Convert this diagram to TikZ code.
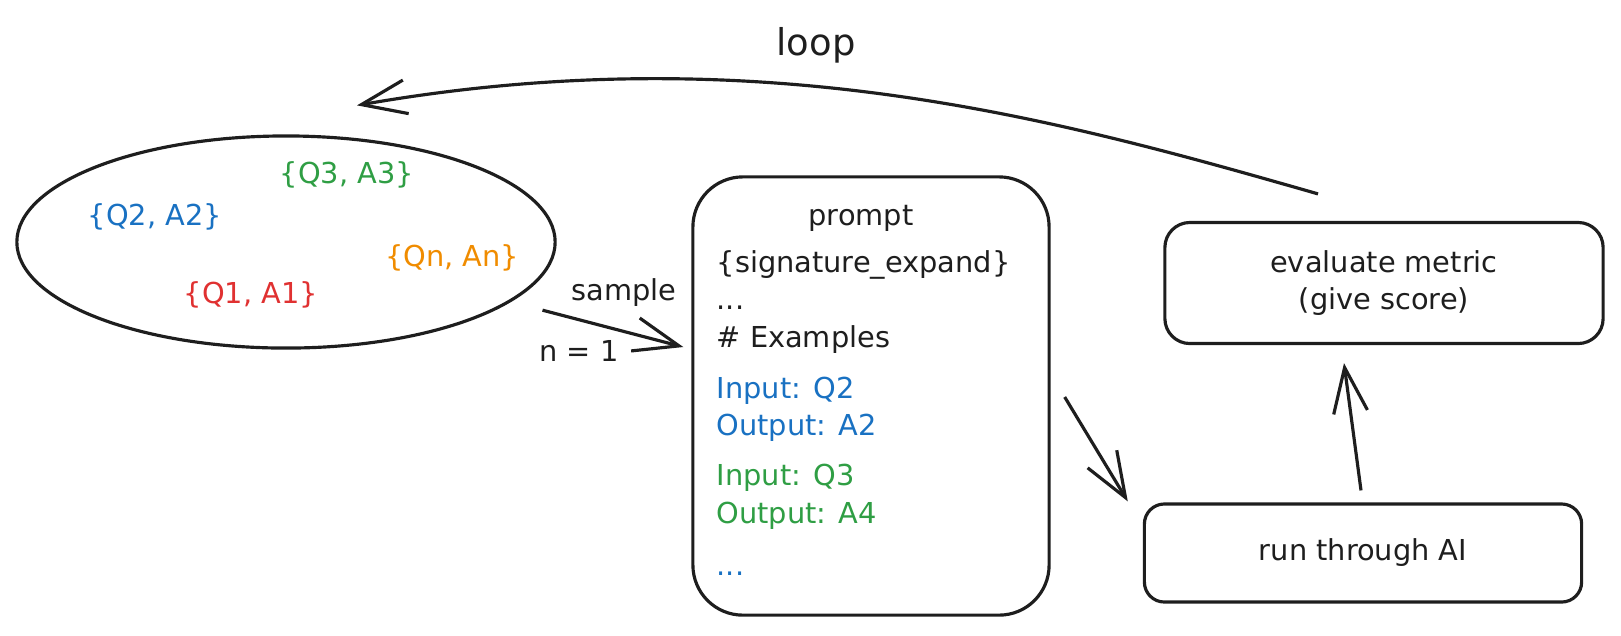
\documentclass[tikz,border=0pt]{standalone}
\usepackage{fontspec}
\setmainfont{DejaVu Sans}
\usetikzlibrary{arrows.meta,positioning,shapes.geometric}
\definecolor{Ink}{HTML}{1E1E1E}
\definecolor{PairBlue}{HTML}{1971C2}
\definecolor{PairGreen}{HTML}{2F9E44}
\definecolor{PairOrange}{HTML}{F08C00}
\definecolor{PairRed}{HTML}{E03131}

\begin{document}
\begin{tikzpicture}[
        x=0.01cm, y=-0.01cm, font=\fontsize{8.2}{10.5}\selectfont, text=Ink,
        box/.style={draw=Ink, line width=0.9pt, align=center},
        ln/.style={anchor=base west, inner sep=0pt},
        lbl/.style={anchor=base, inner sep=0pt},
        e/.style={-{Straight Barb[length=4.5mm, width=3.4mm]}, line width=0.9pt, Ink}
      ]
        \useasboundingbox (0,0) rectangle (1621,635);
        % pool of question/answer pairs
        \node[draw=Ink, line width=0.9pt, ellipse, minimum width=5.38cm, minimum height=2.12cm] (pool) at (286,242) {};
        \node[text=PairGreen]  (qa3) at (347,175) {\{Q3, A3\}};
        \node[text=PairBlue]   (qa2) at (155,217) {\{Q2, A2\}};
        \node[text=PairOrange] (qan) at (452,258) {\{Qn, An\}};
        \node[text=PairRed]    (qa1) at (251,295) {\{Q1, A1\}};
        % prompt
        \node[box, rounded corners=0.5cm, minimum width=3.56cm, minimum height=4.38cm] (prompt) at (871,396) {};
        \node[lbl] (ptitle) at (861,225) {prompt};
        \node[ln] (sig) at (716,272) {\{signature\_expand\}};
        \node[below=0.37cm of sig.base west, ln]  (dotsa) {...};
        \node[below=0.38cm of dotsa.base west, ln] (exs) {\# Examples};
        \node[below=0.51cm of exs.base west, ln, text=PairBlue]   (inq2)  {Input: Q2};
        \node[below=0.37cm of inq2.base west, ln, text=PairBlue]  (outa2) {Output: A2};
        \node[below=0.50cm of outa2.base west, ln, text=PairGreen] (inq3)  {Input: Q3};
        \node[below=0.38cm of inq3.base west, ln, text=PairGreen] (outa4) {Output: A4};
        \node[below=0.52cm of outa4.base west, ln, text=PairBlue]  (dotsb) {...};
        % evaluation
        \node[box, rounded corners=0.25cm, minimum width=4.38cm, minimum height=1.21cm] (eval) at (1384,283) {evaluate metric\\(give score)};
        \node[box, rounded corners=0.2cm, minimum width=4.37cm, minimum height=0.98cm] (run) at (1363,553) {run through AI};
        % connectors
        \draw[e] ([shift={(32,8)}]pool.-15) -- ([shift={(-8,-49)}]prompt.west);
        \node[lbl] (smp) at (624,300) {sample};
        \node[lbl] (num) at (579,361) {n = 1};
        \draw[e] ([shift={(14,1)}]prompt.east) -- ([shift={(-15,-1)}]run.north west);
        \draw[e] ([shift={(-2,-12)}]run.north) -- ([shift={(-40,18)}]eval.south);
        \draw[e] ([shift={(-66,-27)}]eval.north) .. controls (1060,120) and (760,35) .. ([shift={(71,-29)}]pool.north);
        \node[lbl, font=\fontsize{10.5}{12}\selectfont] (looplbl) at (816,55) {loop};
      \end{tikzpicture}
\end{document}
